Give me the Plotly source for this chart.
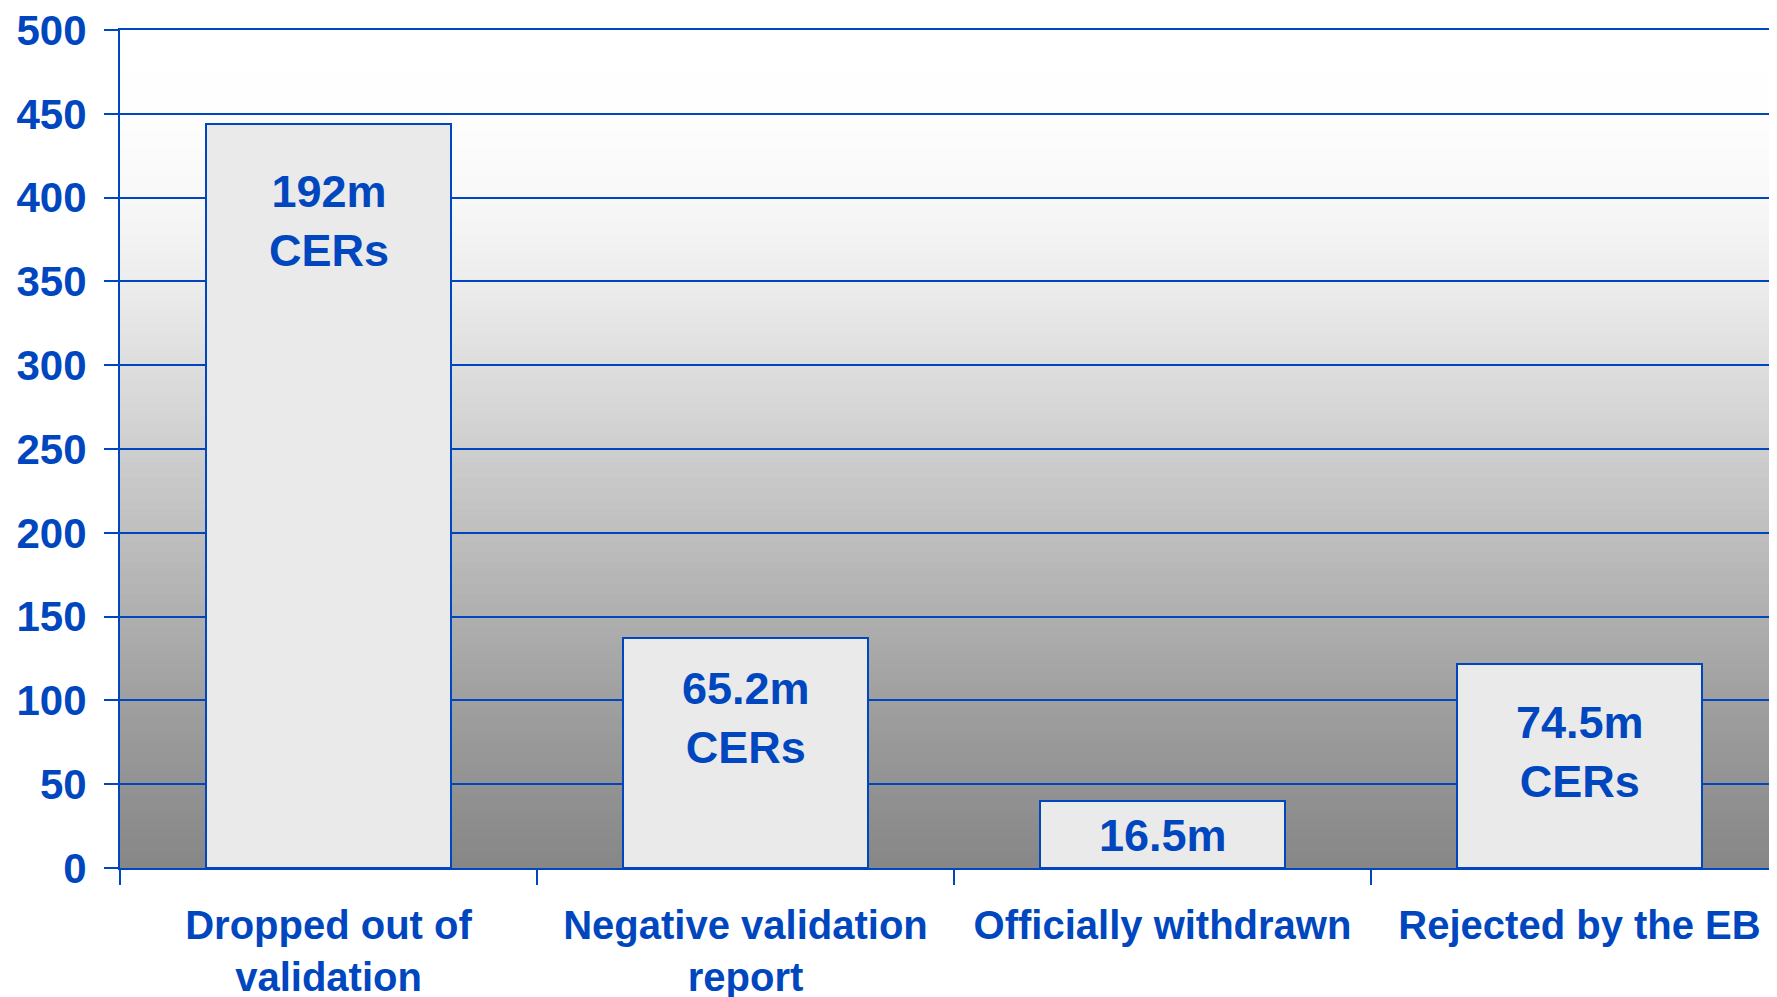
import plotly.graph_objects as go

categories = ["Dropped out of<br>validation", "Negative validation<br>report",
              "Officially withdrawn", "Rejected by the EB"]
values = [444, 137, 40, 122]
bar_labels = ["192m<br>CERs", "65.2m<br>CERs", "16.5m", "74.5m<br>CERs"]
y_ticks = [0, 50, 100, 150, 200, 250, 300, 350, 400, 450, 500]

BLUE = "#0047BF"
FONT = "Liberation Sans, Arial, sans-serif"
label_shift = [-97, -80, -35, -88]

# page body has an 8px margin; compensate
W, H = 1769, 989
ML, MT, MB = 112, 22, 129
cat_px = 417.0
plot_w = W - ML
x_max = -0.5 + plot_w / cat_px

fig = go.Figure()
xs = list(range(len(values)))
fig.add_trace(go.Bar(
    x=xs, y=values, width=0.588,
    marker=dict(color="#EAEAEA", line=dict(color=BLUE, width=2)),
    hoverinfo="skip", showlegend=False,
))
# invisible trace for category labels axis
fig.add_trace(go.Scatter(x=xs, y=[0]*len(xs), xaxis="x2", mode="markers",
                         marker=dict(opacity=0), showlegend=False, hoverinfo="skip"))

# gradient background via bands (grey level stops from top to bottom)
grad_t = [0.0, 0.1, 0.2, 0.3, 0.4, 0.5, 0.6, 0.7, 0.8, 0.9, 1.0]
grad_v = [255, 254, 248, 237, 222, 207, 191, 175, 160, 147, 135]

def grey_at(t):
    for k in range(len(grad_t) - 1):
        if grad_t[k] <= t <= grad_t[k + 1]:
            f = (t - grad_t[k]) / (grad_t[k + 1] - grad_t[k])
            return round(grad_v[k] + (grad_v[k + 1] - grad_v[k]) * f)
    return grad_v[-1]

shapes = []
n = 160
for i in range(n):
    t0 = i / n
    t1 = (i + 1) / n
    g = grey_at((t0 + t1) / 2)
    shapes.append(dict(type="rect", xref="paper", yref="paper", x0=0, x1=1,
                       y0=1 - t1, y1=1 - t0 + 0.002, layer="below", line=dict(width=0),
                       fillcolor=f"rgb({g},{g},{g})"))

annotations = []
for i, (v, lab) in enumerate(zip(values, bar_labels)):
    annotations.append(dict(x=i, y=v, text=lab, showarrow=False, xanchor="center",
                            yanchor="middle", yshift=label_shift[i],
                            font=dict(family=FONT, size=45, color=BLUE, weight="bold")))

fig.update_layout(
    width=W, height=H,
    margin=dict(l=ML, r=0, t=MT, b=MB, pad=0, autoexpand=False),
    paper_bgcolor="white", plot_bgcolor="white",
    shapes=shapes, annotations=annotations,
    bargap=0,
    xaxis=dict(range=[-0.5, x_max], tickmode="array",
               tickvals=[-0.5, 0.5, 1.5, 2.5, 3.5], ticktext=["", "", "", "", ""],
               ticks="outside", ticklen=15, tickwidth=2, tickcolor=BLUE,
               showline=True, linecolor=BLUE, linewidth=2, mirror=True,
               showgrid=False, zeroline=False, fixedrange=True, automargin=False),
    xaxis2=dict(range=[-0.5, x_max], overlaying="x", anchor="y", side="bottom",
                tickmode="array", tickvals=xs, ticktext=categories,
                ticks="", showline=False, showgrid=False, zeroline=False,
                ticklabelstandoff=30, automargin=False, ticklabeloverflow="allow",
                tickfont=dict(family=FONT, size=40, color=BLUE, weight="bold")),
    yaxis=dict(range=[0, 500], tickmode="array", tickvals=y_ticks,
               ticks="outside", ticklen=14, tickwidth=2, tickcolor=BLUE,
               showline=True, linecolor=BLUE, linewidth=2,
               showgrid=True, gridcolor=BLUE, gridwidth=2, zeroline=False,
               ticklabelstandoff=9, automargin=False, ticklabeloverflow="allow",
               tickfont=dict(family=FONT, size=42, color=BLUE, weight="bold")),
)

fig.write_html("out.html")
